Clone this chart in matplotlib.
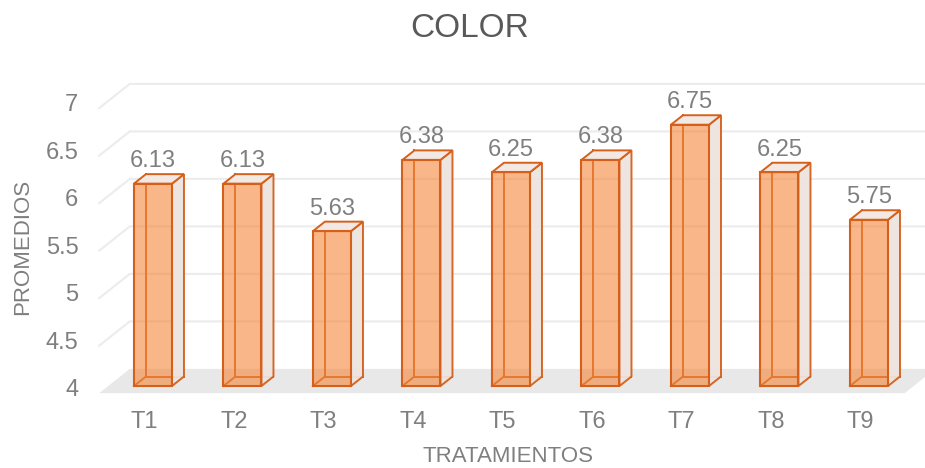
import matplotlib.pyplot as plt
from matplotlib.patches import Polygon

plt.rcParams['font.family'] = ['Liberation Sans', 'DejaVu Sans']

categories = ['T1', 'T2', 'T3', 'T4', 'T5', 'T6', 'T7', 'T8', 'T9']
promedios = [6.13, 6.13, 5.63, 6.38, 6.25, 6.38, 6.75, 6.25, 5.75]
value_labels = ['6.13', '6.13', '5.63', '6.38', '6.25', '6.38', '6.75', '6.25', '5.75']
y_ticks = [4, 4.5, 5, 5.5, 6, 6.5, 7]
y_tick_labels = ['4', '4.5', '5', '5.5', '6', '6.5', '7']

EDGE = '#d4601c'
FRONT = '#f5873a'
SIDE = '#eee4df'
TOP = '#f3e9e4'
TEXT = '#7f7f7f'
GRID = '#ececec'

# oblique depth: one unit of depth = bar depth
DX, DY = 0.134, 0.10
HALF_W = 0.2125
LEFT, RIGHT = -0.5, 8.5
BASE = 4
FLOOR_FRONT, WALL = -0.75, 1.8


def off(x, y, d):
    return (x + d * DX, y + d * DY)


def draw_bar(ax, xc, v):
    x0, x1 = xc - HALF_W, xc + HALF_W
    # hidden back edges, seen through the translucent faces
    ax.plot([off(x0, BASE, 1)[0], off(x0, v, 1)[0]], [off(x0, BASE, 1)[1], off(x0, v, 1)[1]],
            color=EDGE, lw=1.4, zorder=3)
    ax.plot([off(x0, BASE, 1)[0], off(x1, BASE, 1)[0]], [off(x0, BASE, 1)[1], off(x1, BASE, 1)[1]],
            color=EDGE, lw=1.4, zorder=3)
    ax.plot([x0, off(x0, BASE, 1)[0]], [BASE, off(x0, BASE, 1)[1]], color=EDGE, lw=1.4, zorder=3)
    side = [(x1, BASE), off(x1, BASE, 1), off(x1, v, 1), (x1, v)]
    ax.add_patch(Polygon(side, closed=True, facecolor=SIDE, edgecolor=EDGE, lw=1.4, alpha=0.95, zorder=4))
    top = [(x0, v), (x1, v), off(x1, v, 1), off(x0, v, 1)]
    ax.add_patch(Polygon(top, closed=True, facecolor=TOP, edgecolor=EDGE, lw=1.4, zorder=4))
    front = [(x0, BASE), (x1, BASE), (x1, v), (x0, v)]
    ax.add_patch(Polygon(front, closed=True, facecolor=FRONT, alpha=0.6, edgecolor='none', zorder=5))
    ax.add_patch(Polygon(front, closed=True, facecolor='none', edgecolor=EDGE, lw=1.5, zorder=6))


def main():
    fig = plt.figure(figsize=(9.25, 4.68), dpi=100)
    ax = fig.add_axes([0, 0, 1, 1])
    ax.set_xlim(-1.709, 8.626)
    ax.set_ylim(3.137, 8.063)
    ax.axis('off')

    # floor
    floor = [off(LEFT, BASE, FLOOR_FRONT), off(RIGHT, BASE, FLOOR_FRONT),
             off(RIGHT, BASE, WALL), off(LEFT, BASE, WALL)]
    ax.add_patch(Polygon(floor, closed=True, facecolor='#e8e8e8', edgecolor='none', zorder=1))

    # side wall and back wall gridlines
    for v in y_ticks[1:]:
        p0 = off(LEFT, v, FLOOR_FRONT)
        p1 = off(LEFT, v, WALL)
        p2 = off(RIGHT, v, WALL)
        ax.plot([p0[0], p1[0], p2[0]], [p0[1], p1[1], p2[1]], color=GRID, lw=1.5, zorder=2)

    for i, v in enumerate(promedios):
        draw_bar(ax, i, v)
        ax.annotate(value_labels[i], (i, v + DY), xytext=(0, 5), textcoords='offset points',
                    ha='center', va='baseline', fontsize=17, color=TEXT, zorder=7)

    for v, lab in zip(y_ticks, y_tick_labels):
        ax.annotate(lab, off(LEFT, v, FLOOR_FRONT), xytext=(-15, 2), textcoords='offset points',
                    ha='right', va='center', fontsize=17, color=TEXT)

    for i, lab in enumerate(categories):
        ax.annotate(lab, (i, BASE), xytext=(-6, -30), textcoords='offset points',
                    ha='center', va='baseline', fontsize=17, color=TEXT)

    fig.text(0.549, 0.002, 'TRATAMIENTOS', ha='center', va='bottom', fontsize=16, color=TEXT)
    fig.text(0.024, 0.472, 'PROMEDIOS', ha='center', va='center', rotation=90, fontsize=16, color=TEXT)
    fig.text(0.508, 0.921, 'COLOR', ha='center', va='baseline', fontsize=24, color='#595959')

    plt.savefig('out.png', dpi=100)


if __name__ == "__main__":
    main()
